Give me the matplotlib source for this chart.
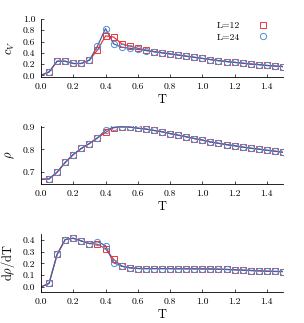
import matplotlib
matplotlib.use('Agg')
import matplotlib.pyplot as plt
import numpy as np

plt.rcParams['font.family'] = 'serif'
plt.rcParams['font.serif'] = ['cmr10', 'DejaVu Serif']
plt.rcParams['mathtext.fontset'] = 'cm'
plt.rcParams['axes.formatter.use_mathtext'] = True

# temperatures (line data starts at T=0, markers from T=0.05)
T = np.round(np.arange(0.0, 1.5001, 0.05), 2)

cv_12 = [0.0, 0.06, 0.25, 0.25, 0.21, 0.21, 0.27, 0.45, 0.70, 0.68, 0.56, 0.52, 0.48,
         0.45, 0.42, 0.40, 0.38, 0.36, 0.34, 0.32, 0.30, 0.28, 0.26, 0.245, 0.23,
         0.215, 0.20, 0.19, 0.175, 0.165, 0.155]
cv_24 = [0.0, 0.06, 0.25, 0.25, 0.21, 0.21, 0.27, 0.52, 0.83, 0.56, 0.50, 0.48, 0.46,
         0.44, 0.42, 0.40, 0.38, 0.36, 0.34, 0.32, 0.30, 0.28, 0.26, 0.245, 0.23,
         0.215, 0.20, 0.19, 0.175, 0.165, 0.155]

rho_12 = [0.667, 0.669, 0.699, 0.742, 0.777, 0.804, 0.826, 0.851, 0.875, 0.896, 0.900,
          0.899, 0.894, 0.890, 0.884, 0.878, 0.870, 0.863, 0.856, 0.848, 0.841,
          0.833, 0.827, 0.821, 0.816, 0.810, 0.805, 0.801, 0.796, 0.792, 0.787]
rho_24 = [0.667, 0.669, 0.699, 0.742, 0.777, 0.804, 0.826, 0.851, 0.885, 0.898, 0.900,
          0.899, 0.894, 0.890, 0.884, 0.878, 0.870, 0.863, 0.856, 0.848, 0.841,
          0.833, 0.827, 0.821, 0.816, 0.810, 0.805, 0.801, 0.796, 0.792, 0.787]

drho_12 = [0.0, 0.031, 0.277, 0.403, 0.414, 0.391, 0.369, 0.363, 0.326, 0.234, 0.177,
           0.163, 0.157, 0.156, 0.156, 0.156, 0.156, 0.155, 0.155, 0.154, 0.154,
           0.153, 0.151, 0.149, 0.146, 0.143, 0.140, 0.137, 0.134, 0.132, 0.131]
drho_24 = [0.0, 0.031, 0.277, 0.403, 0.414, 0.391, 0.369, 0.386, 0.351, 0.206, 0.177,
           0.163, 0.157, 0.156, 0.156, 0.156, 0.156, 0.155, 0.155, 0.154, 0.154,
           0.153, 0.151, 0.149, 0.146, 0.143, 0.140, 0.137, 0.134, 0.132, 0.131]

red = '#e8383d'
blue = '#4f8fd0'
navy = '#4060a8'

W, H = 304, 323
fig = plt.figure(figsize=(W / 100, H / 100), dpi=100)

panels = [
    (cv_12, cv_24, r'$c_V$', (-0.03, 1.0), [0.0, 0.2, 0.4, 0.6, 0.8, 1.0], 19, 77),
    (rho_12, rho_24, r'$\rho$', (0.645, 0.905), [0.7, 0.8, 0.9], 125.7, 184.3),
    (drho_12, drho_24, r'd$\rho$/dT', (-0.04, 0.45), [0.0, 0.1, 0.2, 0.3, 0.4], 234, 291.7),
]

for i, (y12, y24, lab, ylim, yt, top, bot) in enumerate(panels):
    ax = fig.add_axes([41 / W, 1 - bot / H, 242 / W, (bot - top) / H])
    ax.plot(T, y12, color=red, lw=0.9)
    ax.plot(T, y24, color=navy, lw=0.9)
    ax.plot(T[1:], y12[1:], ls='none', marker='s', ms=4.5, mfc='none', mec=red, mew=0.7,
            label='L=12')
    ax.plot(T[1:], y24[1:], ls='none', marker='o', ms=4.5, mfc='none', mec=blue, mew=0.7,
            label='L=24')
    ax.set_xlim(0, 1.5)
    ax.set_ylim(*ylim)
    xt = np.arange(0, 1.51, 0.2)
    ax.set_xticks(xt)
    ax.set_xticklabels(['%.1f' % v for v in xt])
    ax.set_yticks(yt)
    ax.set_yticklabels(['%.1f' % v for v in yt])
    ax.spines['top'].set_visible(False)
    ax.spines['right'].set_visible(False)
    ax.spines['left'].set_bounds(ylim[0], ylim[1])
    ax.tick_params(direction='in', length=2.5, width=0.5, labelsize=7, pad=4)
    for s in ax.spines.values():
        s.set_linewidth(0.6)
    ax.set_xlabel('T', fontsize=9, labelpad=2)
    ax.set_ylabel(lab, fontsize=9, labelpad=4)
    if i == 0:
        ax.legend(loc='upper right', bbox_to_anchor=(0.97, 1.08), frameon=False,
                  markerfirst=False, fontsize=7, handlelength=1.2, handletextpad=1.8,
                  labelspacing=0.3, borderpad=0.2)

fig.savefig('out.png', dpi=100)
